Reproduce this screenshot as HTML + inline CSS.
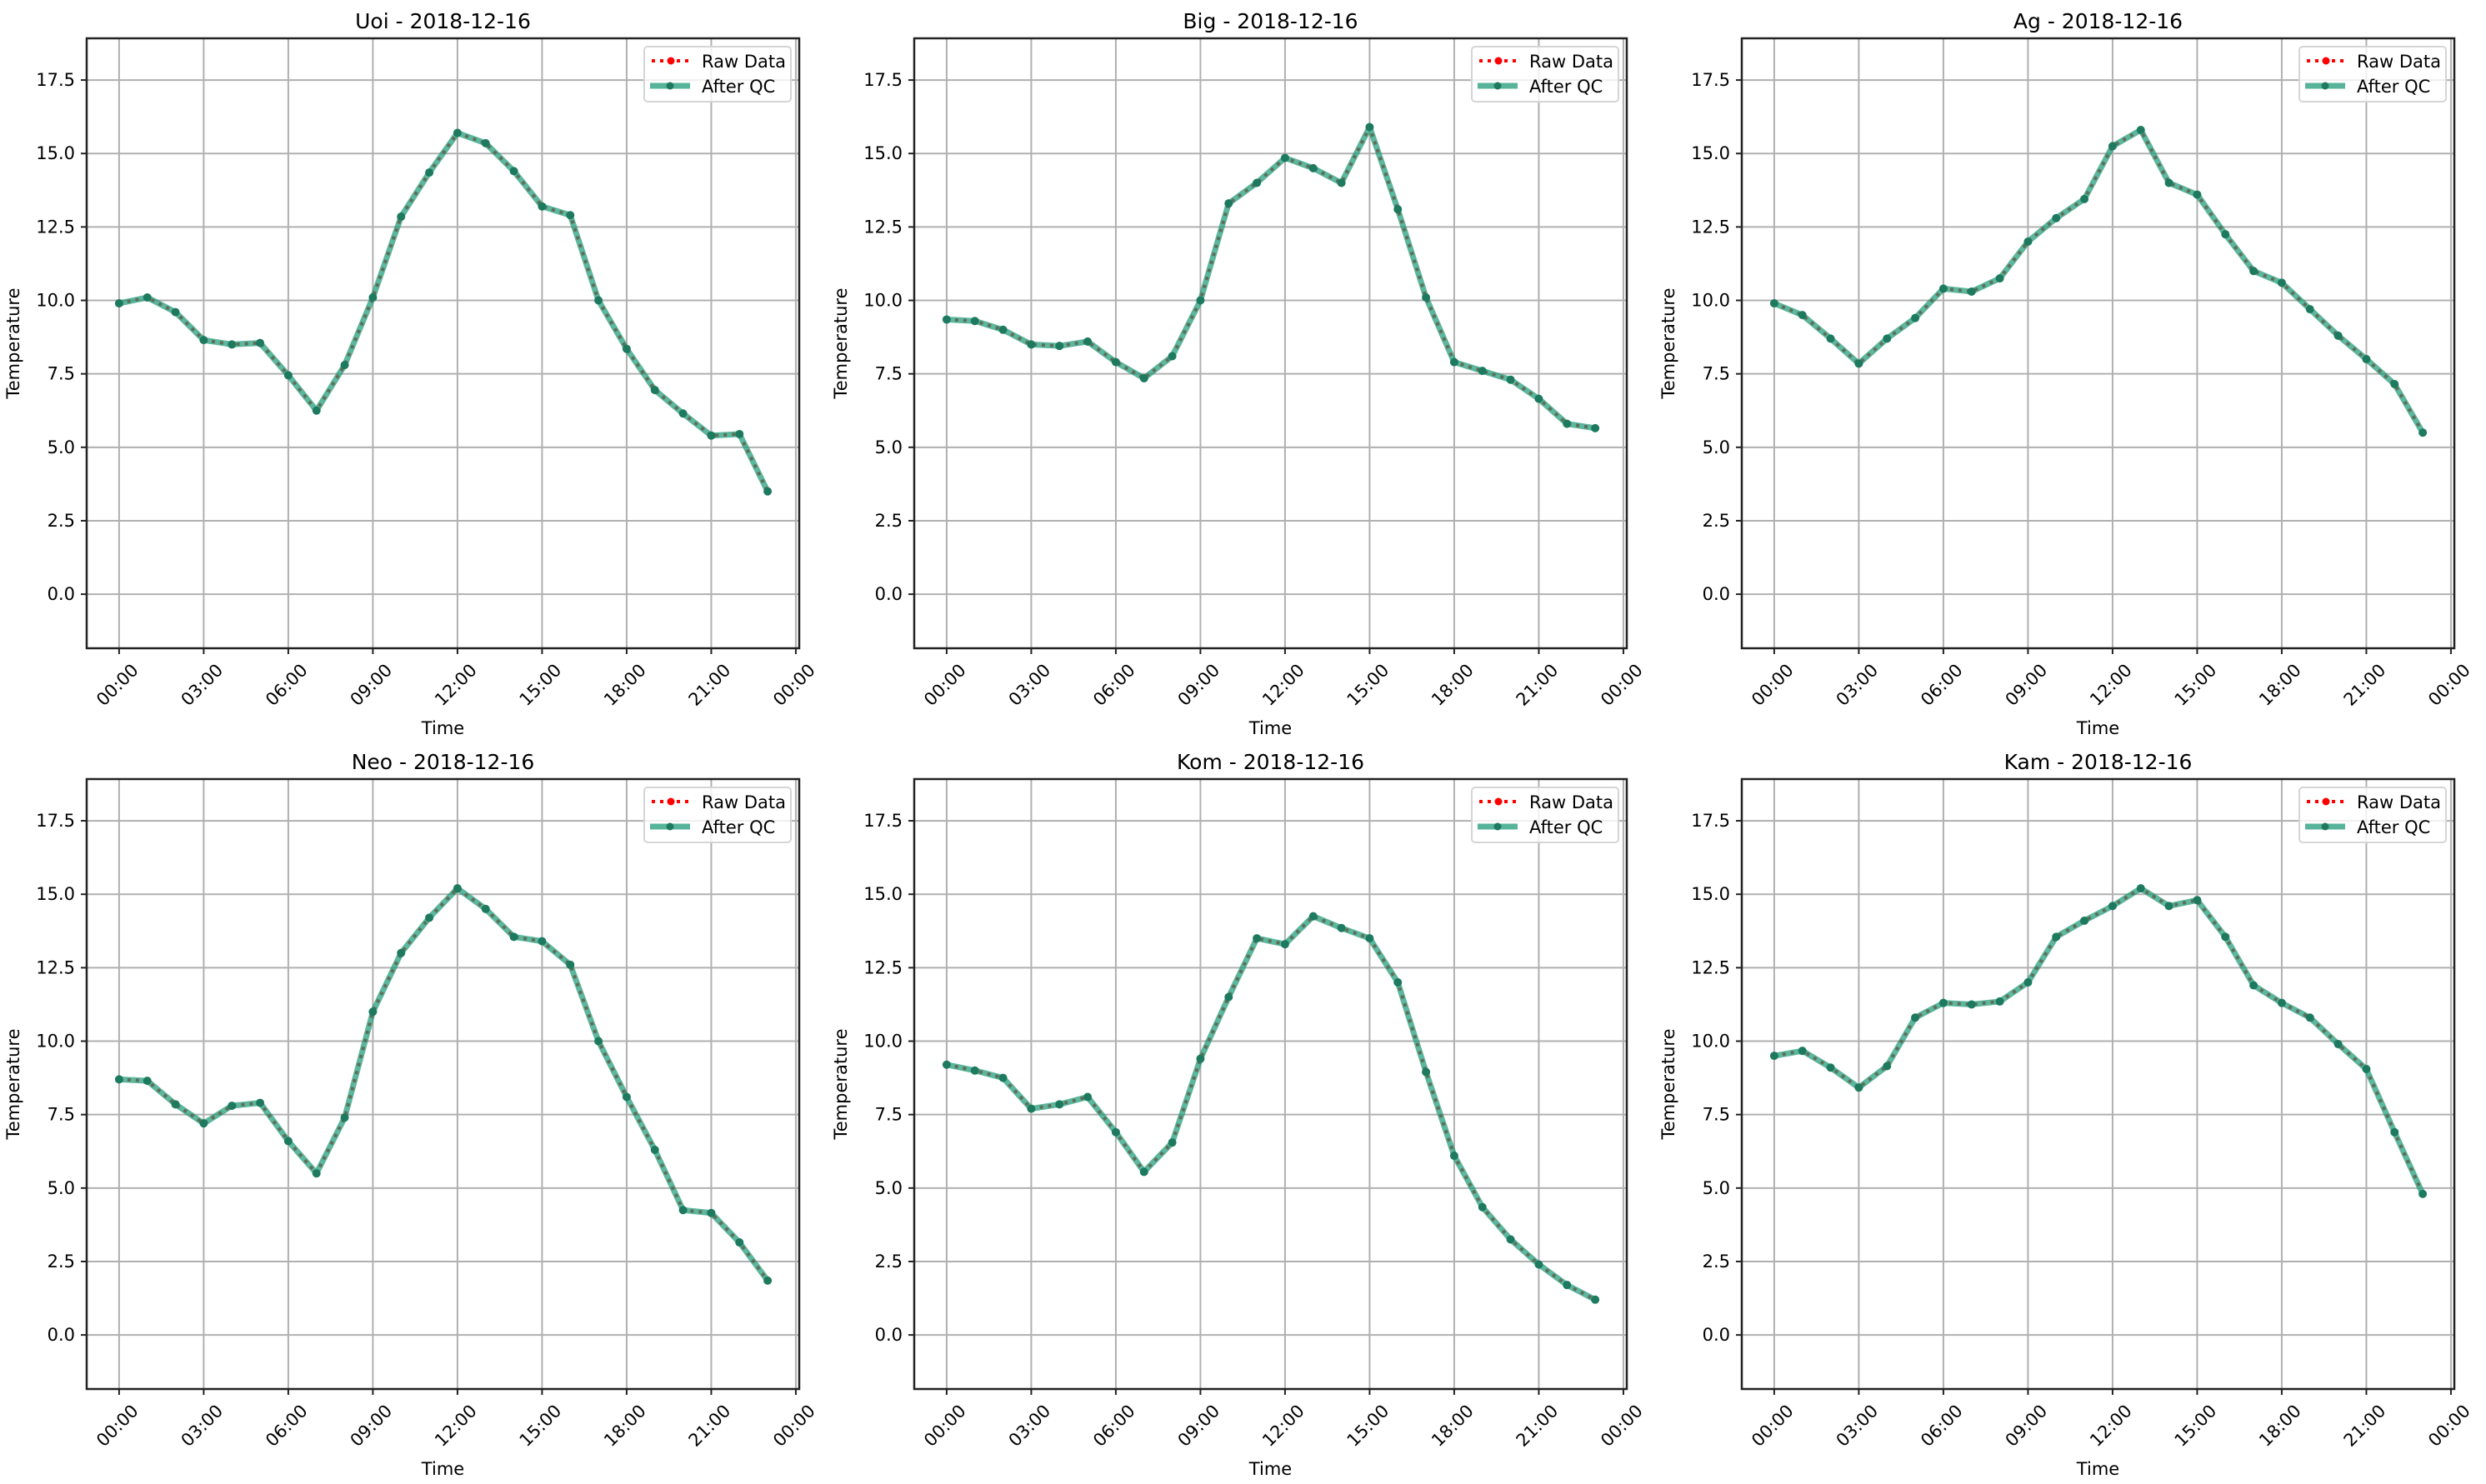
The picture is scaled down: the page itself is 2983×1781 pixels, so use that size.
<!DOCTYPE html>
<html><head><meta charset="utf-8">
<style>
html,body{margin:0;padding:0;background:#fff;}
svg{display:block;font-family:"DejaVu Sans","Liberation Sans",sans-serif;}
</style></head>
<body>
<svg id="fig" width="2983" height="1781" viewBox="0 0 2983 1781" xmlns="http://www.w3.org/2000/svg"></svg>
<script>
const stations = ["Uoi","Big","Ag","Neo","Kom","Kam"];
const dateLabel = "2018-12-16";
const hours = [0,1,2,3,4,5,6,7,8,9,10,11,12,13,14,15,16,17,18,19,20,21,22,23];
const uoiTemps = [9.9,10.1,9.6,8.65,8.5,8.55,7.45,6.25,7.8,10.1,12.85,14.35,15.7,15.35,14.4,13.2,12.9,10.0,8.35,6.95,6.15,5.4,5.45,3.5];
const bigTemps = [9.35,9.3,9.0,8.5,8.45,8.6,7.9,7.35,8.1,10.0,13.3,14.0,14.85,14.5,14.0,15.9,13.1,10.1,7.9,7.6,7.3,6.65,5.8,5.65];
const agTemps = [9.9,9.5,8.7,7.85,8.7,9.4,10.4,10.3,10.75,12.0,12.8,13.45,15.25,15.8,14.0,13.6,12.25,11.0,10.6,9.7,8.8,8.0,7.15,5.5];
const neoTemps = [8.7,8.65,7.85,7.2,7.8,7.9,6.6,5.5,7.4,11.0,13.0,14.2,15.2,14.5,13.55,13.4,12.6,10.0,8.1,6.3,4.25,4.15,3.15,1.85];
const komTemps = [9.2,9.0,8.75,7.7,7.85,8.1,6.9,5.55,6.55,9.4,11.5,13.5,13.3,14.25,13.85,13.5,12.0,8.95,6.1,4.35,3.25,2.4,1.7,1.2];
const kamTemps = [9.5,9.67,9.1,8.42,9.15,10.8,11.3,11.25,11.35,12.0,13.55,14.1,14.6,15.2,14.6,14.8,13.55,11.9,11.3,10.8,9.9,9.05,6.9,4.8];
const yTicks = [0,2.5,5,7.5,10,12.5,15,17.5];
const yTickLabels = ["0.0","2.5","5.0","7.5","10.0","12.5","15.0","17.5"];
const xTicks = [0,3,6,9,12,15,18,21,24];
const xTickLabels = ["00:00","03:00","06:00","09:00","12:00","15:00","18:00","21:00","00:00"];
const allSeries = [uoiTemps,bigTemps,agTemps,neoTemps,komTemps,kamTemps];

const NS="http://www.w3.org/2000/svg";
const svg=document.getElementById('fig');
function mk(tag,attrs,parent,text){const e=document.createElementNS(NS,tag);for(const k in attrs)e.setAttribute(k,attrs[k]);if(text!==undefined)e.textContent=text;parent.appendChild(e);return e;}

const W=855,H=732,yMin=-1.84,yMax=18.92,xMin=-1.15,xMax=24.12;
for(let p=0;p<6;p++){
  const L=104+(p%3)*993, T=46+Math.floor(p/3)*889;
  const sx=h=>L+(h-xMin)/(xMax-xMin)*W;
  const sy=v=>T+(yMax-v)/(yMax-yMin)*H;
  const g=mk('g',{},svg);
  
  
  // grid
  yTicks.forEach((v,i)=>{
    const ln=mk('line',{x1:L,x2:L+W,y1:sy(v),y2:sy(v),stroke:'#b0b0b0','stroke-width':2},g);
    
    
    mk('line',{x1:L-7,x2:L,y1:sy(v),y2:sy(v),stroke:'#222','stroke-width':2},g);
    const t=mk('text',{x:L-14,y:sy(v)+7,'text-anchor':'end','font-size':21,fill:'#000'},g,yTickLabels[i]);
    
    
  });
  xTicks.forEach((h,i)=>{
    const ln=mk('line',{x1:sx(h),x2:sx(h),y1:T,y2:T+H,stroke:'#b0b0b0','stroke-width':2},g);
    
    
    mk('line',{x1:sx(h),x2:sx(h),y1:T+H,y2:T+H+7,stroke:'#222','stroke-width':2},g);
    const cx=sx(h)-2, cy=T+H+44;
    const t=mk('text',{x:cx,y:cy+7,'text-anchor':'middle','font-size':21,fill:'#000',transform:`rotate(-45 ${cx} ${cy})`},g,xTickLabels[i]);
    
    
  });
  const data=allSeries[p];
  const pts=hours.map((h,i)=>sx(h)+','+sy(data[i])).join(' ');
  const raw=mk('polyline',{points:pts,fill:'none',stroke:'#ff0000','stroke-width':4,'stroke-dasharray':'4,6'},g);
  
  
  const qc=mk('polyline',{points:pts,fill:'none',stroke:'#1f9a78','stroke-width':7,'stroke-opacity':0.72,'stroke-linejoin':'round'},g);
  
  
  hours.forEach((h,i)=>{
    const c=mk('circle',{cx:sx(h),cy:sy(data[i]),r:5,fill:'#1d7a5e'},g);
    
    
  });
  const fr=mk('rect',{x:L,y:T,width:W,height:H,fill:'none',stroke:'#222','stroke-width':2.5},g);
  
  
  const ti=mk('text',{x:L+W/2,y:T-12,'text-anchor':'middle','font-size':25,fill:'#000'},g,stations[p]+' - '+dateLabel);
  
  
  const xl=mk('text',{x:L+W/2,y:T+H+103,'text-anchor':'middle','font-size':21,fill:'#000'},g,'Time');
  
  
  const yx=L-81, yy=T+H/2;
  const yl=mk('text',{x:yx,y:yy,'text-anchor':'middle','font-size':21,fill:'#000',transform:`rotate(-90 ${yx} ${yy})`},g,'Temperature');
  
  
  // legend
  const lg=mk('g',{},g);
  
  
  const bx=L+W-186, by=T+10;
  mk('rect',{x:bx,y:by,width:176,height:66,rx:4,fill:'#fff','fill-opacity':0.8,stroke:'#d5d5d5','stroke-width':2},lg);
  const e1=mk('g',{},lg);
  
  
  mk('line',{x1:bx+9,x2:bx+55,y1:by+17,y2:by+17,stroke:'#ff0000','stroke-width':4,'stroke-dasharray':'4,6'},e1);
  mk('circle',{cx:bx+32,cy:by+17,r:4.5,fill:'#ff0000'},e1);
  mk('text',{x:bx+69,y:by+25,'font-size':21,fill:'#000'},e1,'Raw Data');
  const e2=mk('g',{},lg);
  
  
  mk('line',{x1:bx+7,x2:bx+55,y1:by+47,y2:by+47,stroke:'#1f9a78','stroke-width':7,'stroke-opacity':0.75},e2);
  mk('circle',{cx:bx+31,cy:by+47,r:4.5,fill:'#1d7a5e'},e2);
  mk('text',{x:bx+69,y:by+55,'font-size':21,fill:'#000'},e2,'After QC');
}
</script>
</body></html>
